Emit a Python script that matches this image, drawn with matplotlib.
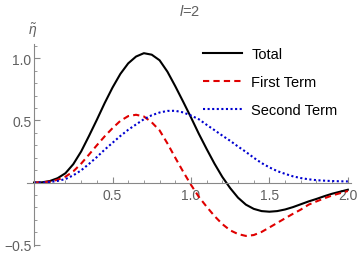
import matplotlib
matplotlib.use("Agg")
import matplotlib.pyplot as plt
from matplotlib.ticker import MultipleLocator, FixedLocator

plt.rcParams["font.family"] = ["Liberation Sans", "DejaVu Sans"]
plt.rcParams["mathtext.fontset"] = "custom"
plt.rcParams["mathtext.it"] = "Liberation Sans:italic"
plt.rcParams["mathtext.rm"] = "Liberation Sans"

x = [0.00, 0.05, 0.10, 0.15, 0.20, 0.25, 0.30, 0.35, 0.40, 0.45,
     0.50, 0.55, 0.60, 0.65, 0.70, 0.75, 0.80, 0.85, 0.90, 0.95,
     1.00, 1.05, 1.10, 1.15, 1.20, 1.25, 1.30, 1.35, 1.40, 1.45,
     1.50, 1.55, 1.60, 1.65, 1.70, 1.75, 1.80, 1.85, 1.90, 1.95, 2.00]

total = [0.000, 0.0015, 0.012, 0.035, 0.075, 0.148, 0.250, 0.375, 0.505, 0.640,
         0.765, 0.875, 0.960, 1.015, 1.042, 1.030, 0.985, 0.893, 0.776, 0.652,
         0.525, 0.393, 0.270, 0.152, 0.045, -0.045, -0.122, -0.178, -0.212, -0.230,
         -0.235, -0.230, -0.217, -0.198, -0.175, -0.152, -0.132, -0.110, -0.090, -0.074, -0.058]

first = [0.000, 0.001, 0.008, 0.022, 0.047, 0.090, 0.152, 0.225, 0.300, 0.372,
         0.438, 0.497, 0.535, 0.546, 0.532, 0.485, 0.420, 0.315, 0.200, 0.088,
         -0.018, -0.115, -0.195, -0.270, -0.335, -0.385, -0.415, -0.430, -0.423, -0.398,
         -0.362, -0.325, -0.288, -0.252, -0.218, -0.178, -0.152, -0.127, -0.104, -0.086, -0.068]

second = [0.000, 0.0005, 0.004, 0.013, 0.028, 0.058, 0.098, 0.150, 0.205, 0.265,
          0.320, 0.375, 0.425, 0.468, 0.510, 0.542, 0.564, 0.577, 0.578, 0.565,
          0.540, 0.510, 0.465, 0.422, 0.378, 0.336, 0.290, 0.247, 0.200, 0.157,
          0.122, 0.092, 0.070, 0.050, 0.036, 0.026, 0.019, 0.015, 0.012, 0.010, 0.009]

labels = ["Total", "First Term", "Second Term"]
xticks = [0.5, 1.0, 1.5, 2.0]
yticks = [-0.5, 0.5, 1.0]

gray = "#606060"
fig = plt.figure(figsize=(3.6, 2.55), dpi=100)
ax = fig.add_axes([0.075, 0.031, 0.900, 0.793])

ax.plot(x, total, color="black", lw=1.5, label=labels[0])
ax.plot(x, first, color="#e00000", lw=1.5, dashes=(3, 2), label=labels[1])
ax.plot(x, second, color="#0000d0", lw=1.5, dashes=(1, 1.2), label=labels[2])

ax.set_xlim(-0.045, 2.02)
ax.set_ylim(-0.512, 1.117)

for s in ["top", "right"]:
    ax.spines[s].set_visible(False)
ax.spines["left"].set_position(("data", 0))
ax.spines["bottom"].set_position(("data", 0))
for s in ["left", "bottom"]:
    ax.spines[s].set_color("#888888")
    ax.spines[s].set_linewidth(0.8)

ax.xaxis.set_major_locator(FixedLocator(xticks))
ax.yaxis.set_major_locator(FixedLocator(yticks))
ax.xaxis.set_minor_locator(MultipleLocator(0.1))
ax.yaxis.set_minor_locator(MultipleLocator(0.1))
ax.tick_params(which="major", direction="in", length=4, width=0.8, color="#888888",
               labelsize=10, labelcolor=gray)
ax.tick_params(which="minor", direction="in", length=2, width=0.6, color="#888888")
ax.tick_params(axis="x", pad=4)
ax.tick_params(axis="y", pad=2)
ax.set_xticklabels([f"{t:.1f}" for t in xticks])
ax.set_yticklabels(["\u22120.5", "0.5", "1.0"])

fig.text(33 / 360, 1 - 31 / 255, r"$\tilde{\eta}$", color=gray, fontsize=10,
         ha="center", va="center", family="DejaVu Sans")
fig.text(190 / 360, 1 - 11 / 255, r"$l$=2", color=gray, fontsize=10.5,
         ha="center", va="center")

fig.legend(loc="upper left", bbox_to_anchor=(203 / 360, 1 - 48 / 255), frameon=False,
           fontsize=10.5, handlelength=2.7, handletextpad=0.6, labelspacing=0.95,
           borderpad=0, borderaxespad=0)

fig.savefig("out.png", dpi=100)
